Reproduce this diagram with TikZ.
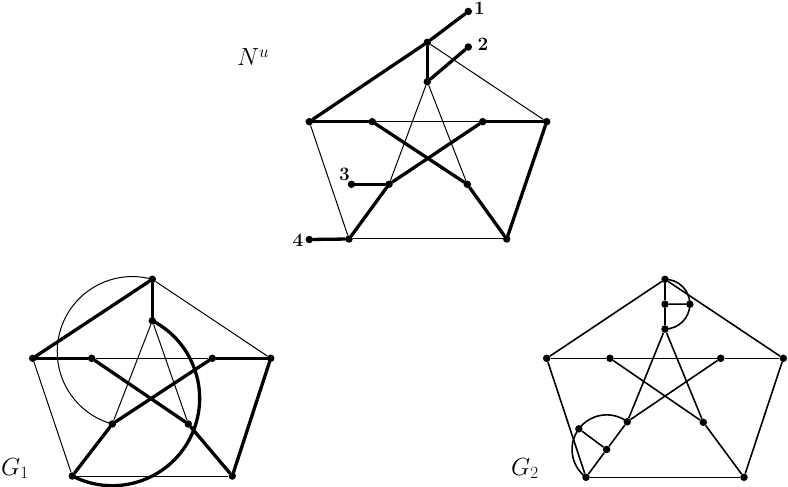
\documentclass[tikz,border=0pt]{standalone}
\usetikzlibrary{calc}
\pgfdeclarelayer{bg}
\pgfsetlayers{bg,main}
\begin{document}
\begin{tikzpicture}[x=1bp,y=1bp,
  vtx/.style={circle,fill=black,inner sep=0pt,minimum size=7.5bp},
  thinedge/.style={line width=1bp},
  thickedge/.style={line width=3.3bp,line cap=round},
  midedge/.style={line width=1.6bp},
  biglbl/.style={inner sep=0pt,font=\fontsize{27}{30}\selectfont},
  numlbl/.style={inner sep=0pt,font=\fontsize{19}{21}\selectfont\bfseries}]
\useasboundingbox (0,0) rectangle (788,-487);

% ---------- N^u ----------
\node[vtx] (nT)   at (427.3,-42.3) {};
\node[vtx] (nt)   at (427.3,-81.7) {};
\node[vtx] (nL)   at (309.3,-121.7) {};
\node[vtx] (nR)   at (546.7,-121.7) {};
\node[vtx] (nil)  at (372.3,-121.7) {};
\node[vtx] (nir)  at (482.7,-121.7) {};
\node[vtx] (nibl) at (389,-184.3) {};
\node[vtx] (nibr) at (467.3,-184.3) {};
\node[vtx] (nBL)  at (349,-239) {};
\node[vtx] (nBR)  at (506.7,-239) {};
\node[vtx] (n1)   at (468.3,-11.5) {};
\node[vtx] (n2)   at (468.3,-47) {};
\node[vtx] (n3)   at (351.5,-184.3) {};
\node[vtx] (n4)   at (309.3,-239.5) {};
\node[numlbl] (l1) at (479.5,-8) {1};
\node[numlbl] (l2) at (483,-44.5) {2};
\node[numlbl] (l3) at (344.5,-174) {3};
\node[numlbl] (l4) at (298,-240) {4};
\node[biglbl,anchor=base west] (lNu) at (237,-66) {$N^u$};

% ---------- G_1 ----------
\node[vtx] (gT)   at (152.3,-279.3) {};
\node[vtx] (gt)   at (152.3,-320.7) {};
\node[vtx] (gL)   at (32.7,-358.3) {};
\node[vtx] (gR)   at (270.7,-358.3) {};
\node[vtx] (gil)  at (91.7,-358.3) {};
\node[vtx] (gir)  at (212.3,-358.3) {};
\node[vtx] (gibl) at (112.3,-424) {};
\node[vtx] (gibr) at (188.3,-424) {};
\node[vtx] (gBL)  at (72.3,-476) {};
\node[vtx] (gBR)  at (232.3,-476) {};
\node[biglbl,anchor=base west] (lG1) at (1,-475) {$G_1$};

% ---------- G_2 ----------
\node[vtx] (hT)   at (665,-279.3) {};
\node[vtx] (ht)   at (665,-329) {};
\node[vtx] (hL)   at (546.7,-358.3) {};
\node[vtx] (hR)   at (783.3,-358.3) {};
\node[vtx] (hil)  at (610,-358.3) {};
\node[vtx] (hir)  at (720.7,-358.3) {};
\node[vtx] (hibl) at (627.3,-421.7) {};
\node[vtx] (hibr) at (703.3,-422.3) {};
\node[vtx] (hBL)  at (586,-477.3) {};
\node[vtx] (hBR)  at (744,-477.3) {};
\node[vtx] (hm)   at ($(hT)!0.5!(ht)$) {};
\node[vtx] (hx)   at ($(hm)!1!-90:(hT)$) {};
\node[vtx] (hb)   at ($(hibl)!0.5!(hBL)$) {};
\node[vtx] (ha)   at ($(hb)!1!90:(hibl)$) {};
\node[biglbl,anchor=base west] (lG2) at (511,-475) {$G_2$};

\begin{pgfonlayer}{bg}
% N^u edges
\draw[thickedge] (nT) -- (nL);
\draw[thinedge]  (nT) -- (nR);
\draw[thickedge] (nT) -- (nt);
\draw[thickedge] (nT) -- (n1);
\draw[thickedge] (nt) -- (n2);
\draw[thinedge]  (nt) -- (nibl);
\draw[thinedge]  (nt) -- (nibr);
\draw[thickedge] (nL) -- (nil);
\draw[thinedge]  (nil) -- (nir);
\draw[thickedge] (nir) -- (nR);
\draw[thickedge] (nil) -- (nibr);
\draw[thickedge] (nibr) -- (nBR);
\draw[thickedge] (nir) -- (nibl);
\draw[thickedge] (nibl) -- (nBL);
\draw[thickedge] (nibl) -- (n3);
\draw[thickedge] (nBL) -- (n4);
\draw[thinedge]  (nL) -- (nBL);
\draw[thinedge]  (nBL) -- (nBR);
\draw[thickedge] (nR) -- (nBR);

% G_1 edges
\draw[thickedge] (gT) -- (gL);
\draw[thinedge]  (gT) -- (gR);
\draw[thickedge] (gT) -- (gt);
\draw[thinedge]  (gt) -- (gibl);
\draw[thinedge]  (gt) -- (gibr);
\draw[thickedge] (gL) -- (gil);
\draw[thinedge]  (gil) -- (gir);
\draw[thickedge] (gir) -- (gR);
\draw[thickedge] (gil) -- (gibr);
\draw[thickedge] (gibr) -- (gBR);
\draw[thickedge] (gir) -- (gibl);
\draw[thickedge] (gibl) -- (gBL);
\draw[thinedge]  (gL) -- (gBL);
\draw[thinedge]  (gBL) -- (gBR);
\draw[thickedge] (gR) -- (gBR);
\draw[thinedge] let \p1=($(gibl)-(gT)$), \n1={veclen(\x1,\y1)/2}, \n2={atan2(\y1,\x1)} in
  (gT.center) arc[start angle=\n2+180, delta angle=180, radius=\n1];
\draw[thickedge] let \p1=($(gBL)-(gt)$), \n1={veclen(\x1,\y1)/2}, \n2={atan2(\y1,\x1)} in
  (gt.center) arc[start angle=\n2+180, delta angle=-180, radius=\n1];

% G_2 edges
\draw[midedge] (hT) -- (hL);
\draw[midedge] (hT) -- (hR);
\draw[midedge] (hT) -- (hm);
\draw[midedge] (hm) -- (ht);
\draw[midedge] (hm) -- (hx);
\draw[midedge] (ht) -- (hibl);
\draw[midedge] (ht) -- (hibr);
\draw[midedge] (hL) -- (hil);
\draw[midedge] (hil) -- (hir);
\draw[midedge] (hir) -- (hR);
\draw[midedge] (hil) -- (hibr);
\draw[midedge] (hir) -- (hibl);
\draw[midedge] (hibr) -- (hBR);
\draw[midedge] (hibl) -- (hb);
\draw[midedge] (hb) -- (hBL);
\draw[midedge] (ha) -- (hb);
\draw[midedge] (hL) -- (hBL);
\draw[midedge] (hBL) -- (hBR);
\draw[midedge] (hR) -- (hBR);
\draw[midedge] let \p1=($(ht)-(hT)$), \n1={veclen(\x1,\y1)/2}, \n2={atan2(\y1,\x1)} in
  (hT.center) arc[start angle=\n2+180, delta angle=-180, radius=\n1];
\draw[midedge] let \p1=($(hBL)-(hibl)$), \n1={veclen(\x1,\y1)/2}, \n2={atan2(\y1,\x1)} in
  (hibl.center) arc[start angle=\n2+180, delta angle=180, radius=\n1];
\end{pgfonlayer}
\end{tikzpicture}
\end{document}
